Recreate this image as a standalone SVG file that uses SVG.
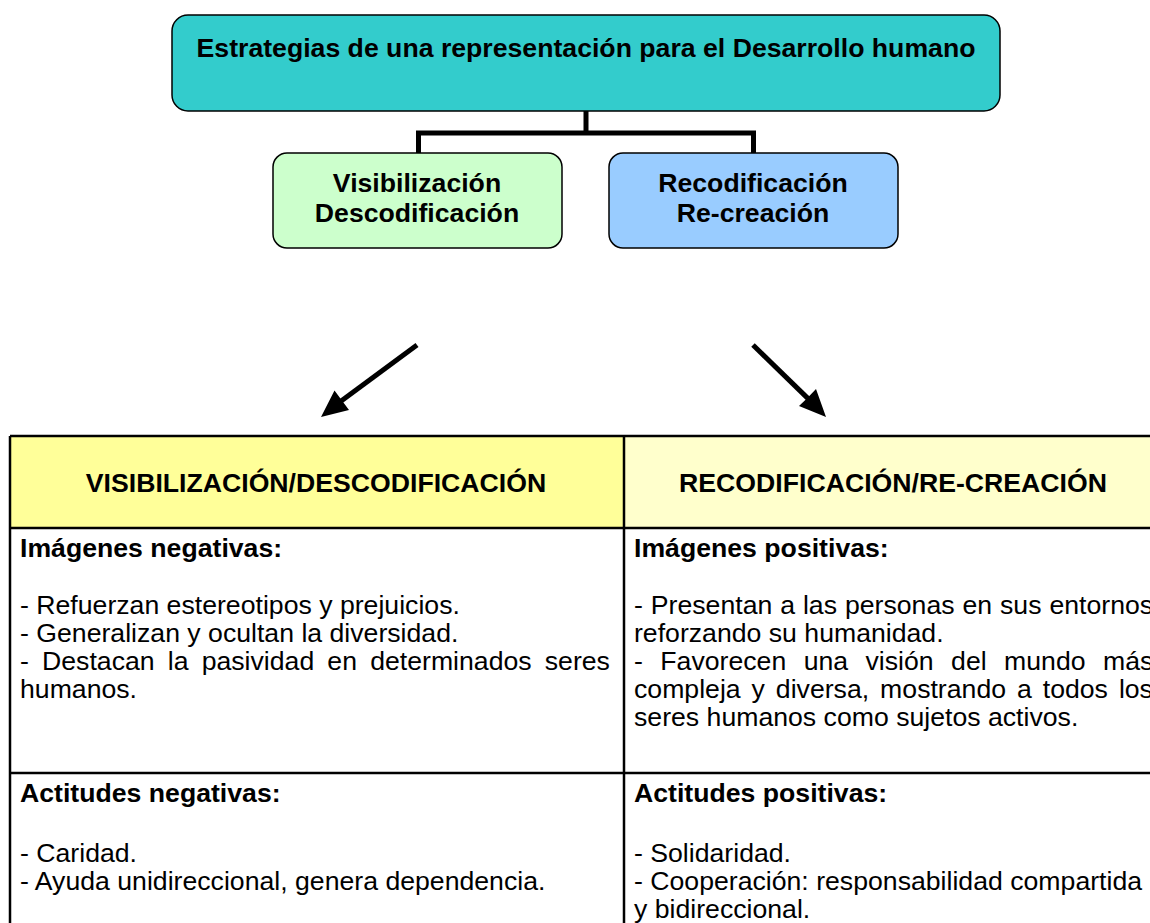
<svg xmlns="http://www.w3.org/2000/svg" width="1150" height="923" viewBox="0 0 1150 923">
<style>
text{font-family:"Liberation Sans",Arial,sans-serif;font-size:25.5px;fill:#000}
.b{font-weight:bold}
.m{text-anchor:middle}
.box{stroke:#000;stroke-width:1.5}
.conn{stroke:#000;stroke-width:5;fill:none}
.grid{stroke:#000;stroke-width:2.5;fill:none}
</style>
<rect width="1150" height="923" fill="#fff"/>
<g id="connectors">
<path class="conn" d="M586 111V133M416 133H756M418.5 131V153M753.5 131V153"/>
<path class="conn" d="M417 345L337.1 404.1"/>
<polygon points="321,417 349,410 341.9,400.5 334.5,390.5" fill="#000"/>
<path class="conn" d="M753 345L811.7 402.1"/>
<polygon points="826,417 799,406 807.4,397.9 816,389" fill="#000"/>
</g>
<g id="title">
<rect class="box" x="172" y="15" width="828" height="96" rx="16" fill="#33CCCC"/>
<text class="b m" transform="matrix(1.045 0 0 1 586 57)">Estrategias de una representación para el Desarrollo humano</text>
</g>
<g id="visibilizacion">
<rect class="box" x="273" y="153" width="289" height="95" rx="14" fill="#CCFFCC"/>
<text class="b m" transform="matrix(1.045 0 0 1 417 192)">Visibilización</text>
<text class="b m" transform="matrix(1.045 0 0 1 417 222)">Descodificación</text>
</g>
<g id="recodificacion">
<rect class="box" x="609" y="153" width="289" height="95" rx="14" fill="#99CCFF"/>
<text class="b m" transform="matrix(1.045 0 0 1 753 192)">Recodificación</text>
<text class="b m" transform="matrix(1.045 0 0 1 753 222)">Re-creación</text>
</g>
<g id="table">
<rect x="10" y="436" width="614" height="92" fill="#FFFF99"/>
<rect x="624" y="436" width="540" height="92" fill="#FFFFCC"/>
<path class="grid" d="M10 436H1160M10 528H1160M10 773H1160M10 436V930M624 436V930"/>
<g id="head-left"><text class="b m" transform="matrix(1.045 0 0 1 316 492)">VISIBILIZACIÓN/DESCODIFICACIÓN</text></g>
<g id="head-right"><text class="b m" transform="matrix(1.045 0 0 1 893 492)">RECODIFICACIÓN/RE-CREACIÓN</text></g>
<g id="imagenes-negativas">
<text class="b" transform="matrix(1.045 0 0 1 20 557)">Imágenes negativas:</text>
<text transform="matrix(1.045 0 0 1 20 614)">- Refuerzan estereotipos y prejuicios.</text>
<text transform="matrix(1.045 0 0 1 20 642)">- Generalizan y ocultan la diversidad.</text>
<text transform="matrix(1.045 0 0 1 20 670)" word-spacing="5.5">- Destacan la pasividad en determinados seres</text>
<text transform="matrix(1.045 0 0 1 20 698)">humanos.</text>
</g>
<g id="imagenes-positivas">
<text class="b" transform="matrix(1.045 0 0 1 634 557)">Imágenes positivas:</text>
<text transform="matrix(1.045 0 0 1 634 614)" word-spacing="0.5">- Presentan a las personas en sus entornos</text>
<text transform="matrix(1.045 0 0 1 634 642)">reforzando su humanidad.</text>
<text transform="matrix(1.045 0 0 1 634 670)" word-spacing="9.6">- Favorecen una visión del mundo más</text>
<text transform="matrix(1.045 0 0 1 634 698)" word-spacing="3.4">compleja y diversa, mostrando a todos los</text>
<text transform="matrix(1.045 0 0 1 634 726)">seres humanos como sujetos activos.</text>
</g>
<g id="actitudes-negativas">
<text class="b" transform="matrix(1.045 0 0 1 20 802)">Actitudes negativas:</text>
<text transform="matrix(1.045 0 0 1 20 862)">- Caridad.</text>
<text transform="matrix(1.045 0 0 1 20 890)">- Ayuda unidireccional, genera dependencia.</text>
</g>
<g id="actitudes-positivas">
<text class="b" transform="matrix(1.045 0 0 1 634 802)">Actitudes positivas:</text>
<text transform="matrix(1.045 0 0 1 634 862)">- Solidaridad.</text>
<text transform="matrix(1.045 0 0 1 634 890)">- Cooperación: responsabilidad compartida</text>
<text transform="matrix(1.045 0 0 1 634 918)">y bidireccional.</text>
</g>
</g>
</svg>
